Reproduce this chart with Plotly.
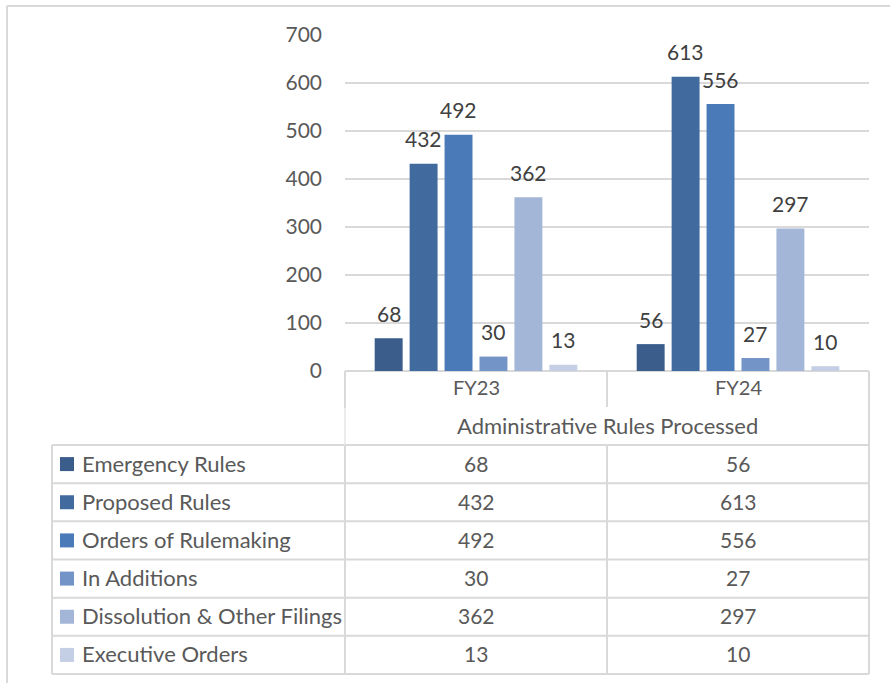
import plotly.graph_objects as go

# ---------------- data ----------------
categories = ["FY23", "FY24"]
series_names = [
    "Emergency Rules",
    "Proposed Rules",
    "Orders of Rulemaking",
    "In Additions",
    "Dissolution & Other Filings",
    "Executive Orders",
]
emergency_rules = [68, 56]
proposed_rules = [432, 613]
orders_of_rulemaking = [492, 556]
in_additions = [30, 27]
dissolution_other = [362, 297]
executive_orders = [13, 10]
axis_title = "Administrative Rules Processed"
y_ticks = [0, 100, 200, 300, 400, 500, 600, 700]

series_values = [
    emergency_rules,
    proposed_rules,
    orders_of_rulemaking,
    in_additions,
    dissolution_other,
    executive_orders,
]
colors = ["#3A5D8B", "#416A9F", "#4A7BB8", "#7394C6", "#A3B6D8", "#C4CFE5"]

# ---------------- layout geometry (pixels) ----------------
W, H = 890, 683
FONT = "Lato"
GRID = "#D9D9D9"
TXT = "#595959"
LBL = "#404040"
NUM_SIZE = 21
LABEL_SIZE = 22

def px(x):
    return x / W

def py(y):
    return 1 - y / H

plot_left, plot_right = 345, 869
plot_top, plot_bottom = 35, 371
bargap = 0.2
bargroupgap = 0.2

fig = go.Figure()
for name, vals, col in zip(series_names, series_values, colors):
    fig.add_trace(go.Bar(
        x=categories, y=vals, name=name,
        marker=dict(color=col, line=dict(width=0)),
        hoverinfo="x+y+name",
    ))

annotations = []
shapes = []

# data labels above bars
n = len(series_names)
cat_px = (plot_right - plot_left) / len(categories)
slot = cat_px * (1 - bargap) / n
for i, vals in enumerate(series_values):
    for c, v in zip(categories, vals):
        annotations.append(dict(
            x=c, y=v, xref="x", yref="y", text=str(v), showarrow=False,
            xshift=(i - (n - 1) / 2) * slot, yshift=25,
            xanchor="center", yanchor="middle",
            font=dict(family=FONT, size=NUM_SIZE, color=LBL),
        ))

# category row labels
for c in categories:
    annotations.append(dict(
        x=c, y=py(387), xref="x", yref="paper", text=c, showarrow=False,
        xanchor="center", yanchor="middle",
        font=dict(family=FONT, size=20, color=TXT),
    ))
# axis title (second-level category)
annotations.append(dict(
    x=px((plot_left + plot_right) / 2), y=py(425), xref="paper", yref="paper",
    text=axis_title, showarrow=False, xanchor="center", yanchor="middle",
    font=dict(family=FONT, size=LABEL_SIZE, color=TXT),
))

# data table
table_left = 52
row_top = 445
row_h = (674 - 445) / n
for r, (name, vals, col) in enumerate(zip(series_names, series_values, colors)):
    yc = row_top + row_h * (r + 0.5)
    shapes.append(dict(
        type="rect", xref="paper", yref="paper",
        x0=px(60), x1=px(74), y0=py(yc - 7), y1=py(yc + 7),
        fillcolor=col, line=dict(width=0),
    ))
    annotations.append(dict(
        x=px(80), y=py(yc - 1), xref="paper", yref="paper", text=name,
        showarrow=False, xanchor="left", yanchor="middle",
        font=dict(family=FONT, size=LABEL_SIZE, color=TXT),
    ))
    for c, v in zip(categories, vals):
        annotations.append(dict(
            x=c, y=py(yc - 1), xref="x", yref="paper", text=str(v),
            showarrow=False, xanchor="center", yanchor="middle",
            font=dict(family=FONT, size=NUM_SIZE, color=TXT),
        ))

def hline(y, x0, x1, color=GRID, w=2):
    shapes.append(dict(type="line", xref="paper", yref="paper",
                       x0=px(x0), x1=px(x1), y0=py(y), y1=py(y),
                       line=dict(color=color, width=w)))

def vline(x, y0, y1, color=GRID, w=2):
    shapes.append(dict(type="line", xref="paper", yref="paper",
                       x0=px(x), x1=px(x), y0=py(y0), y1=py(y1),
                       line=dict(color=color, width=w)))

# table grid lines
for r in range(n + 1):
    hline(row_top + row_h * r, table_left, plot_right)
vline(table_left, row_top, 674)
vline(plot_left, plot_bottom, 408)
vline(plot_left, 408, row_top, color="#E6E6E6", w=1.5)
vline(plot_left, row_top, 674)
vline(plot_right, plot_bottom, 674)
mid = (plot_left + plot_right) / 2
vline(mid, plot_bottom, 407)
vline(mid, row_top, 674)

# outer chart frame
hline(6, 7, 890)
vline(7, 6, 683)

fig.update_layout(
    width=W, height=H, autosize=False,
    margin=dict(l=0, r=0, t=0, b=0, pad=0, autoexpand=False),
    paper_bgcolor="white", plot_bgcolor="white",
    showlegend=False,
    barmode="group", bargap=bargap, bargroupgap=bargroupgap,
    font=dict(family=FONT, color=TXT),
    xaxis=dict(
        domain=[px(plot_left), px(plot_right)], automargin=False,
        type="category", categoryarray=categories, range=[-0.5, len(categories) - 0.5],
        showticklabels=False, showgrid=False, zeroline=False, showline=False, ticks="",
    ),
    yaxis=dict(
        domain=[py(plot_bottom), py(plot_top)], automargin=False,
        range=[0, 700], tickvals=y_ticks,
        showgrid=True, gridcolor=GRID, gridwidth=2,
        zeroline=True, zerolinecolor=GRID, zerolinewidth=2,
        showline=False, ticks="", ticklabelstandoff=22,
        tickfont=dict(family=FONT, size=NUM_SIZE, color=TXT),
    ),
    annotations=annotations,
    shapes=shapes,
)

fig.write_html(
    "out.html",
    config={"displayModeBar": False},
    post_script="document.body.style.margin='0';document.body.style.overflow='hidden';",
)
